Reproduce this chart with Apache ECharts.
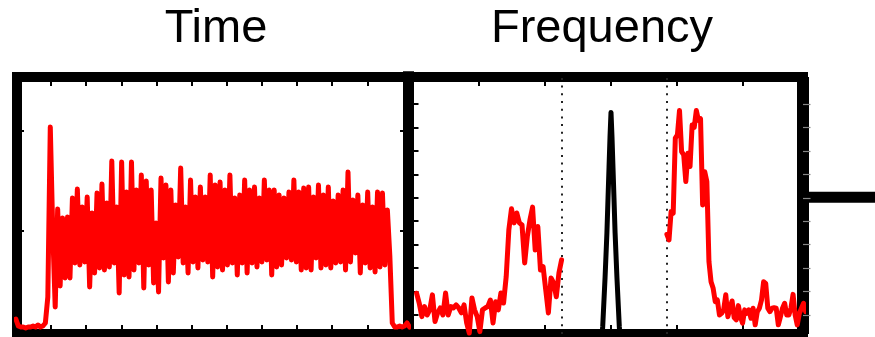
<!DOCTYPE html>
<html>
<head>
<meta charset="utf-8">
<script src="https://cdn.jsdelivr.net/npm/echarts@6/dist/echarts.min.js"></script>
<style>
  html, body { margin: 0; padding: 0; background: #fff; }
  #chart { width: 875px; height: 337px; }
</style>
</head>
<body>
<div id="chart"></div>
<script>
// ---- Time-domain trace (uniformly sampled) ----
const timeStep = 0.07;
const timeSignal = [
  0.12,0.05,0.04,0.04,0.03,0.04,0.04,0.05,0.04,0.06,
  0.04,0.05,0.08,0.34,2.04,1.00,0.24,1.22,0.45,1.13,
  0.53,1.14,0.53,1.33,0.68,1.42,0.66,1.24,0.69,1.34,
  0.44,1.18,0.58,1.38,0.63,1.47,0.61,1.28,0.64,1.70,
  0.68,1.24,0.38,1.69,0.56,1.39,0.54,1.69,0.61,1.41,
  0.68,1.56,0.43,1.50,0.66,1.41,0.48,1.08,0.39,1.53,
  0.73,1.46,0.49,1.41,0.58,1.26,0.74,1.63,0.68,1.24,
  0.58,1.51,0.69,1.34,0.63,1.44,0.71,1.34,0.69,1.56,
  0.54,1.46,0.64,1.49,0.61,1.41,0.66,1.56,0.68,1.33,
  0.56,1.36,0.68,1.51,0.58,1.41,0.68,1.44,0.64,1.33,
  0.69,1.51,0.71,1.41,0.56,1.41,0.64,1.36,0.66,1.33,
  0.73,1.39,0.71,1.51,0.69,1.39,0.61,1.43,0.63,1.44,
  0.61,1.34,0.73,1.46,0.63,1.36,0.66,1.44,0.63,1.30,
  0.68,1.36,0.69,1.41,0.61,1.59,0.69,1.31,0.78,1.36,
  0.58,1.26,0.68,1.39,0.63,1.24,0.59,1.39,0.64,1.38,
  0.66,1.21,0.75,0.08,0.04,0.04,0.05,0.04,0.05,0.08,0.04
];
const timeTicks = [1, 2, 3, 4, 5, 6, 7, 8, 9, 10];
const timeLevelTicks = [1, 2];

// ---- Spectrum: lower sideband, carrier, upper sideband ----
const lowerBandStart = -2.95;
const lowerBandStep = 0.04;
const lowerBand = [
  1.93,1.51,0.93,1.36,1.00,1.22,1.86,0.72,1.09,1.30,
  1.00,1.94,1.00,1.36,1.30,1.43,1.30,1.09,1.43,0.66,
  0.23,1.73,1.22,0.93,0.29,1.22,1.30,1.36,1.64,0.66,
  1.57,1.22,1.94,1.51,2.64,4.63,5.53,4.93,5.35,4.93,
  4.84,3.22,4.34,5.05,5.60,3.77,4.77,2.92,3.06,2.07,
  1.09,2.58,2.37,1.78,2.79,3.35
];
const upperBandStart = 0.848;
const upperBandStep = 0.0319;
const upperBand = [
  4.44,4.20,5.41,5.34,8.54,8.68,9.72,7.97,7.83,6.69,
  7.90,7.33,9.10,9.00,9.72,9.30,9.37,5.69,7.11,6.69,
  3.28,2.42,2.14,1.57,1.64,1.00,1.07,1.22,1.86,0.93,
  1.29,1.60,0.89,0.79,1.40,0.93,0.65,1.22,1.07,1.22,
  0.86,1.29,0.58,1.14,1.29,1.64,2.42,2.35,1.29,1.14,
  1.29,1.31,1.29,0.58,0.93,1.29,1.50,1.00,1.00,1.29,
  1.88,1.00,0.58,1.07,1.29,1.50,1.14,1.29
];
const carrierFreq  = [-0.14,-0.126,-0.09,-0.062,-0.045,-0.03,-0.015,0,0.015,0.03,0.045,0.062,0.09,0.126,0.14];
const carrierLevel = [0,0.5,2.6,4.5,6.0,7.3,8.6,9.64,8.6,7.3,6.0,4.5,2.6,0.5,0];
const bandEdges = [-0.754, 0.848];
const freqTicks = [-2, -1, 0, 1, 2];
const levelTicks = [1, 2, 3, 4, 5, 6, 7, 8, 9, 10];

const RED = '#ff0000';
const traceStyle = (color) => ({ color: color, width: 5, join: 'round', cap: 'round' });

function frame(gridIndex, position, width, ticks, tickLen, extra) {
  return Object.assign({
    gridIndex: gridIndex,
    type: 'value',
    position: position,
    axisLine: { show: true, onZero: false, lineStyle: { color: '#000', width: width, cap: 'square' } },
    axisTick: { show: true, inside: true, length: tickLen, customValues: ticks,
                lineStyle: { color: '#000', width: 2 } },
    axisLabel: { show: false },
    splitLine: { show: false }
  }, extra || {});
}

const timeRange = { min: 0.033, max: 11.157 };
const timeLevelRange = { min: -0.03, max: 2.54 };
const freqRange = { min: -3.08, max: 2.913 };
const levelRange = { min: 0.19, max: 11.15 };

// right-hand edge of the spectrum frame: plain ends, faint outward ticks
const rightOuter = frame(1, 'right', 12, levelTicks, 7.5, levelRange);
rightOuter.axisLine.lineStyle.cap = 'butt';
rightOuter.axisTick.inside = false;
rightOuter.axisTick.lineStyle = { color: '#888', width: 1.2 };

const titleFont = '47px "Liberation Sans", Arial, sans-serif';

const option = {
  animation: false,
  backgroundColor: '#fff',
  grid: [
    { left: 17, top: 77, width: 391, height: 257 },
    { left: 408, top: 77, width: 395, height: 257 }
  ],
  xAxis: [
    frame(0, 'bottom', 10, timeTicks, 9, timeRange),
    frame(0, 'top', 10, timeTicks, 9, timeRange),
    frame(1, 'bottom', 10, freqTicks, 9, freqRange),
    frame(1, 'top', 10, freqTicks, 9, freqRange)
  ],
  yAxis: [
    frame(0, 'left', 10, timeLevelTicks, 7, timeLevelRange),
    frame(0, 'right', 11, timeLevelTicks, 8, timeLevelRange),
    frame(1, 'left', 11, levelTicks, 10.5, levelRange),
    rightOuter
  ],
  graphic: [
    { type: 'text', x: 216, y: 29, style: { text: 'Time', fill: '#000',
      font: titleFont, align: 'center', verticalAlign: 'middle' } },
    { type: 'text', x: 602, y: 29, style: { text: 'Frequency', fill: '#000',
      font: titleFont, align: 'center', verticalAlign: 'middle' } },
    { type: 'line', shape: { x1: 809, y1: 197.3, x2: 875, y2: 197.3 },
      style: { stroke: '#000', lineWidth: 11 } }
  ],
  series: [
    {
      type: 'line', xAxisIndex: 0, yAxisIndex: 0, clip: false, showSymbol: false, z: 5,
      lineStyle: traceStyle(RED),
      data: timeSignal.map((v, i) => [i * timeStep, v])
    },
    {
      type: 'line', xAxisIndex: 2, yAxisIndex: 2, clip: false, showSymbol: false, z: 5,
      lineStyle: traceStyle(RED),
      data: lowerBand.map((v, i) => [lowerBandStart + i * lowerBandStep, v])
    },
    {
      type: 'line', xAxisIndex: 2, yAxisIndex: 2, clip: false, showSymbol: false, z: 5,
      lineStyle: traceStyle(RED),
      data: upperBand.map((v, i) => [upperBandStart + i * upperBandStep, v])
    },
    {
      type: 'line', xAxisIndex: 2, yAxisIndex: 2, clip: false, showSymbol: false, z: 5,
      lineStyle: traceStyle('#000'),
      data: carrierFreq.map((f, i) => [f, carrierLevel[i]]),
      markLine: {
        silent: true, symbol: 'none', animation: false,
        label: { show: false },
        lineStyle: { color: '#222', width: 2, type: [2, 5.7] },
        data: bandEdges.map(f => ({ xAxis: f }))
      }
    }
  ]
};

const chart = echarts.init(document.getElementById('chart'), null, { renderer: 'canvas' });
chart.setOption(option);
</script>
</body>
</html>
